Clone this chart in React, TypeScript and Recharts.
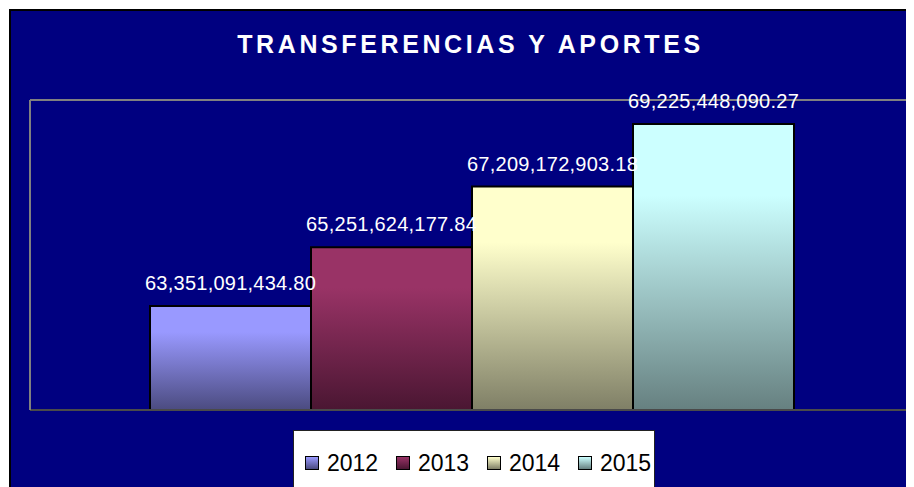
import { Bar, BarChart, LabelList, Legend, ReferenceLine, XAxis, YAxis } from "recharts";

const years = ["2012", "2013", "2014", "2015"];
const amounts = [63351091434.8, 65251624177.84, 67209172903.18, 69225448090.27];
const topColors = ["#9999FF", "#993366", "#FFFFCC", "#CCFFFF"];
const bottomColors = ["#4B4B80", "#4A1632", "#7F7F66", "#668080"];
const yTicks = [60000000000, 70000000000];

const row: Record<string, number | string> = { name: "" };
years.forEach((y, i) => {
  row[y] = amounts[i];
});
const data = [row];

const font = "Arial, 'Liberation Sans', sans-serif";

const fmt = (v: number) =>
  Number(v).toLocaleString("en-US", { minimumFractionDigits: 2, maximumFractionDigits: 2 });

function ValueLabel(props: any) {
  const { x, y, width, value } = props;
  return (
    <text
      x={Number(x) + Number(width) / 2}
      y={Number(y) - 16}
      textAnchor="middle"
      fill="#ffffff"
      fontSize={20}
      letterSpacing={0.25}
      fontFamily={font}
    >
      {fmt(value)}
    </text>
  );
}

function LegendBox(props: any) {
  const payload = props.payload || [];
  return (
    <div
      style={{
        width: 362,
        height: 70,
        background: "#ffffff",
        border: "1px solid #222",
        boxSizing: "border-box",
        display: "flex",
        paddingLeft: 11,
        paddingTop: 20,
        fontFamily: font,
        fontSize: 23,
        lineHeight: "24px",
        color: "#000",
      }}
    >
      {payload.map((p: any) => {
        const i = years.indexOf(String(p.value));
        return (
          <div key={p.value} style={{ display: "flex", alignItems: "center", height: 24, width: 91, flexShrink: 0 }}>
            <span
              style={{
                display: "inline-block",
                width: 12,
                height: 12,
                border: "1px solid #000",
                background: `linear-gradient(${topColors[i]}, ${bottomColors[i]})`,
                marginRight: 8,
              }}
            />
            <span>{p.value}</span>
          </div>
        );
      })}
    </div>
  );
}

export default function App() {
  return (
    <div
      style={{
        position: "relative",
        width: 903,
        height: 476,
        marginLeft: 1,
        marginTop: 1,
        background: "#000080",
        borderLeft: "2px solid #000",
        borderTop: "2px solid #000",
        overflow: "hidden",
      }}
    >
      <style>{"html,body{overflow:hidden}"}</style>
      <div
        style={{
          position: "absolute",
          left: 459.5,
          top: 21,
          transform: "translateX(-50%)",
          whiteSpace: "nowrap",
          color: "#ffffff",
          fontFamily: font,
          fontWeight: "bold",
          fontSize: 25,
          lineHeight: "25px",
          letterSpacing: 3.6,
        }}
      >
        TRANSFERENCIAS Y APORTES
      </div>
      <BarChart width={903} height={476} data={data} margin={{ top: 89, right: 0, left: 18, bottom: 77 }} barGap={0}>
        <defs>
          {years.map((y, i) => (
            <linearGradient key={y} id={`g${y}`} x1="0" y1="0" x2="0" y2="1">
              <stop offset="0%" stopColor={topColors[i]} />
              <stop offset="25%" stopColor={topColors[i]} />
              <stop offset="100%" stopColor={bottomColors[i]} />
            </linearGradient>
          ))}
        </defs>
        <XAxis dataKey="name" tick={false} tickLine={false} height={0} axisLine={false} />
        <YAxis
          domain={[yTicks[0], yTicks[1]]}
          ticks={yTicks}
          allowDataOverflow
          tick={false}
          tickLine={false}
          width={1}
          axisLine={{ stroke: "#808080", strokeWidth: 2 }}
        />
        <ReferenceLine y={yTicks[1]} stroke="#808080" strokeWidth={2} />
        <ReferenceLine y={yTicks[0]} stroke="#4a4a4a" strokeWidth={2} />
        <Legend
          layout="horizontal"
          verticalAlign="middle"
          align="center"
          content={<LegendBox />}
          wrapperStyle={{ left: 282, top: 419, width: 362 }}
        />
        {years.map((y) => (
          <Bar key={y} dataKey={y} name={y} fill={`url(#g${y})`} stroke="#000" strokeWidth={2} barSize={161} isAnimationActive={false}>
            <LabelList dataKey={y} content={<ValueLabel />} />
          </Bar>
        ))}
      </BarChart>
    </div>
  );
}
